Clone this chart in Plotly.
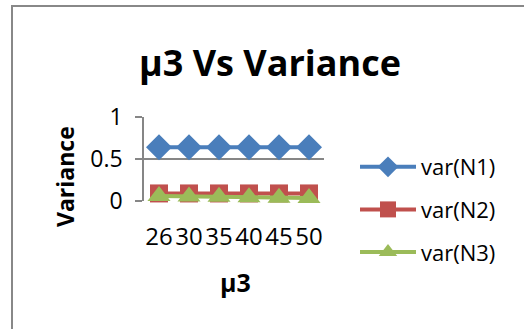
import plotly.graph_objects as go

categories = ["26", "30", "35", "40", "45", "50"]
var_n1 = [0.64, 0.64, 0.64, 0.64, 0.64, 0.64]
var_n2 = [0.09, 0.09, 0.09, 0.09, 0.09, 0.09]
var_n3 = [0.06, 0.055, 0.05, 0.045, 0.04, 0.035]
series_names = ["var(N1)", "var(N2)", "var(N3)"]
colors = ["#4a7ebb", "#c0504d", "#9bbb59"]
symbols = ["diamond", "square", "triangle-up"]

W, H = 524, 329
L, R, T, B = 144, 200, 117, 128
FONT = "Open Sans"

fig = go.Figure()
for i, (name, vals) in enumerate(zip(series_names, [var_n1, var_n2, var_n3])):
    fig.add_trace(go.Scatter(
        x=categories, y=vals, name=name, mode="lines+markers",
        line=dict(color=colors[i], width=4),
        marker=dict(symbol=symbols[i], size=[20, 18, 20][i], color=colors[i]),
        cliponaxis=False, legendgroup=name,
    ))

def px(x):
    return (x - L) / (W - L - R)

def py(y):
    return (H - B - y) / (H - T - B)

fig.update_layout(
    width=W, height=H,
    margin=dict(l=L, r=R, t=T, b=B),
    paper_bgcolor="white", plot_bgcolor="white",
    font=dict(family=FONT, color="black"),
    showlegend=True,
    legend=dict(
        x=px(355), y=py(146), xanchor="left", yanchor="top",
        font=dict(size=22, family=FONT, color="black"),
        tracegroupgap=11, itemwidth=56, bgcolor="rgba(0,0,0,0)",
        maxheight=300,
    ),
    xaxis=dict(
        type="category", range=[-0.5, 5.5], showgrid=False,
        showline=False, ticks="", tickfont=dict(size=24, family=FONT),
        ticklabelstandoff=19, zeroline=False,
    ),
    yaxis=dict(
        range=[0, 1], tickvals=[0, 0.5, 1], ticktext=["0", "0.5", "1"],
        showgrid=True, gridcolor="#868686", gridwidth=1.5,
        showline=True, linecolor="#868686", linewidth=1.5,
        ticks="outside", ticklen=7, tickcolor="#868686", tickwidth=1.5,
        tickfont=dict(size=23, family=FONT), ticklabelstandoff=8,
        zeroline=False,
    ),
    annotations=[
        dict(text="<b>μ3 Vs Variance</b>", xref="paper", yref="paper",
             x=px(270), y=py(62), xanchor="center", yanchor="middle",
             showarrow=False, font=dict(size=36, family=FONT)),
        dict(text="<b>Variance</b>", xref="paper", yref="paper",
             x=px(65), y=py(177), xanchor="center", yanchor="middle",
             textangle=-90, showarrow=False, font=dict(size=23, family=FONT)),
        dict(text="<b>μ3</b>", xref="paper", yref="paper",
             x=px(235), y=py(282), xanchor="center", yanchor="middle",
             showarrow=False, font=dict(size=25, family=FONT)),
    ],
    shapes=[
        dict(type="rect", xref="paper", yref="paper",
             x0=px(12), x1=px(540), y0=py(345), y1=py(6),
             line=dict(color="#888888", width=2), fillcolor="rgba(0,0,0,0)",
             layer="below"),
    ],
)

fig.write_html("out.html")
